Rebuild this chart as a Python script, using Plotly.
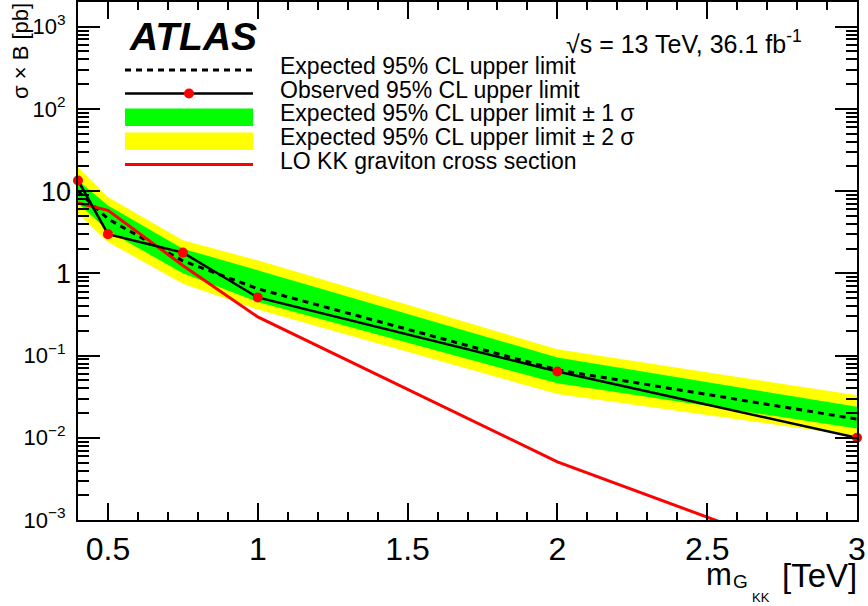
import plotly.graph_objects as go

# ---------------- data ----------------
mass = [0.4, 0.5, 0.75, 1.0, 2.0, 3.0]              # TeV
observed = [13.5, 3.0, 1.79, 0.51, 0.064, 0.0100]    # pb
expected = [10.0, 4.6, 1.42, 0.65, 0.067, 0.0169]
exp_p1 = [13.5, 6.7, 2.0, 1.09, 0.095, 0.0238]
exp_m1 = [7.2, 3.3, 1.0, 0.45, 0.046, 0.0130]
exp_p2 = [19.5, 8.5, 2.52, 1.44, 0.119, 0.0330]
exp_m2 = [5.3, 2.4, 0.75, 0.363, 0.034, 0.0105]
lo_mass = [0.4, 0.5, 0.75, 1.0, 2.0, 3.0]
lo_xsec = [7.2, 5.85, 1.25, 0.295, 0.0051, 0.00023]

x_ticks = [0.5, 1.0, 1.5, 2.0, 2.5, 3.0]
x_ticktext = ["0.5", "1", "1.5", "2", "2.5", "3"]
y_ticks = [1e-3, 1e-2, 1e-1, 1, 10, 100, 1000]
y_ticktext = ["10<sup>\u22123</sup>", "10<sup>\u22122</sup>", "10<sup>\u22121</sup>",
              "", "", "10<sup>2</sup>", "10<sup>3</sup>"]
y_big_ticks = [1, 10]
y_big_ticktext = ["1", "10"]

legend_labels = [
    "Expected 95% CL upper limit",
    "Observed 95% CL upper limit",
    "Expected 95% CL upper limit \u00b1 1 \u03c3",
    "Expected 95% CL upper limit \u00b1 2 \u03c3",
    "LO KK graviton cross section",
]

FONT = "Liberation Sans, Arial, Helvetica, sans-serif"
W, H = 868, 606
L, R, T, B = 78, 11, 2, 86
PW, PH = W - L - R, H - T - B
Y_RANGE = [-3, 3.301]


def px(xp):
    return (xp - L) / PW


def py(yp):
    return (H - B - yp) / PH


fig = go.Figure()

# 2 sigma band
fig.add_trace(go.Scatter(x=mass + mass[::-1], y=exp_p2 + exp_m2[::-1], fill="toself",
                         fillcolor="#ffff00", line=dict(width=0), mode="lines",
                         hoverinfo="skip", showlegend=False))
# 1 sigma band
fig.add_trace(go.Scatter(x=mass + mass[::-1], y=exp_p1 + exp_m1[::-1], fill="toself",
                         fillcolor="#00ff00", line=dict(width=0), mode="lines",
                         hoverinfo="skip", showlegend=False))
# expected
fig.add_trace(go.Scatter(x=mass, y=expected, mode="lines",
                         line=dict(color="black", width=3, dash="6px,5px"),
                         showlegend=False))
# LO cross section
fig.add_trace(go.Scatter(x=lo_mass, y=lo_xsec, mode="lines",
                         line=dict(color="#ff0000", width=3), showlegend=False))
# observed
fig.add_trace(go.Scatter(x=mass, y=observed, mode="lines+markers",
                         line=dict(color="black", width=2.5),
                         marker=dict(color="#ff0000", size=10, line=dict(width=0)),
                         cliponaxis=False, showlegend=False))
# invisible carrier trace for the overlay axis holding the large "1" / "10" labels
fig.add_trace(go.Scatter(x=[mass[0]], y=[observed[0]], yaxis="y2", mode="markers",
                         marker=dict(opacity=0), hoverinfo="skip", showlegend=False))

fig.update_xaxes(range=[0.4, 3.0], tickvals=x_ticks, ticktext=x_ticktext,
                 ticks="inside", ticklen=17, tickwidth=1.5, tickcolor="black",
                 showline=True, linecolor="black", linewidth=2, mirror="ticks",
                 showgrid=False, zeroline=False, automargin=False,
                 tickfont=dict(family=FONT, size=32, color="black"),
                 minor=dict(ticks="inside", ticklen=8, dtick=0.1, tick0=0.4,
                            tickwidth=1.5, tickcolor="black", showgrid=False))
fig.update_layout(
    yaxis=dict(type="log", range=Y_RANGE, tickvals=y_ticks, ticktext=y_ticktext,
               ticks="inside", ticklen=22, tickwidth=1.5, tickcolor="black",
               showline=True, linecolor="black", linewidth=2, mirror="ticks",
               showgrid=False, zeroline=False, ticklabelstandoff=6, automargin=False,
               tickfont=dict(family=FONT, size=22, color="black"),
               minor=dict(ticks="inside", ticklen=11, dtick="D1",
                          tickwidth=1.5, tickcolor="black", showgrid=False)),
    yaxis2=dict(type="log", range=Y_RANGE, overlaying="y", side="left",
                tickvals=y_big_ticks, ticktext=y_big_ticktext, ticks="",
                showline=False, showgrid=False, zeroline=False, automargin=False,
                ticklabelstandoff=6,
                tickfont=dict(family=FONT, size=27, color="black")),
)

shapes = []
# legend samples
shapes.append(dict(type="line", xref="paper", yref="paper", x0=px(125), x1=px(253),
                   y0=py(70), y1=py(70), line=dict(color="black", width=3, dash="6px,5px")))
shapes.append(dict(type="line", xref="paper", yref="paper", x0=px(125), x1=px(253),
                   y0=py(93.5), y1=py(93.5), line=dict(color="black", width=2.5)))
shapes.append(dict(type="circle", xref="paper", yref="paper", x0=px(184), x1=px(194),
                   y0=py(88.5), y1=py(98.5), fillcolor="#ff0000", line=dict(width=0)))
shapes.append(dict(type="rect", xref="paper", yref="paper", x0=px(125), x1=px(253),
                   y0=py(126), y1=py(108.5), fillcolor="#00ff00", line=dict(width=0)))
shapes.append(dict(type="rect", xref="paper", yref="paper", x0=px(125), x1=px(253),
                   y0=py(150), y1=py(132.5), fillcolor="#ffff00", line=dict(width=0)))
shapes.append(dict(type="line", xref="paper", yref="paper", x0=px(125), x1=px(253),
                   y0=py(164.5), y1=py(164.5), line=dict(color="#ff0000", width=3)))

annotations = []
row_y = [66, 90, 113.5, 137, 160.5]
for lab, yy in zip(legend_labels, row_y):
    annotations.append(dict(text=lab, xref="paper", yref="paper", x=px(278), y=py(yy),
                            xanchor="left", yanchor="middle", showarrow=False,
                            font=dict(family=FONT, size=23, color="black")))

annotations.append(dict(text="<b><i>ATLAS</i></b>", xref="paper", yref="paper",
                        x=px(193), y=py(37), xanchor="center", yanchor="middle",
                        showarrow=False, font=dict(family=FONT, size=39, color="black")))
annotations.append(dict(text="\u221as = 13 TeV, 36.1 fb<sup>-1</sup>", xref="paper", yref="paper",
                        x=px(564), y=py(42), xanchor="left", yanchor="middle",
                        showarrow=False, font=dict(family=FONT, size=25, color="black")))
# y-axis title
annotations.append(dict(text="\u03c3 \u00d7 B [pb]", xref="paper", yref="paper",
                        x=px(21), y=py(1), xanchor="center", yanchor="top", textangle=-90,
                        showarrow=False, font=dict(family=FONT, size=22, color="black")))
# x-axis title pieces
annotations.append(dict(text="[TeV]", xref="paper", yref="paper", x=px(859), y=py(575),
                        xanchor="right", yanchor="middle", showarrow=False,
                        font=dict(family=FONT, size=33, color="black")))
annotations.append(dict(text="m", xref="paper", yref="paper", x=px(704), y=py(574),
                        xanchor="left", yanchor="middle", showarrow=False,
                        font=dict(family=FONT, size=31, color="black")))
annotations.append(dict(text="G", xref="paper", yref="paper", x=px(731), y=py(581),
                        xanchor="left", yanchor="middle", showarrow=False,
                        font=dict(family=FONT, size=19, color="black")))
annotations.append(dict(text="KK", xref="paper", yref="paper", x=px(750), y=py(597),
                        xanchor="left", yanchor="middle", showarrow=False,
                        font=dict(family=FONT, size=13, color="black")))

fig.update_layout(width=W, height=H, margin=dict(l=L, r=R, t=T, b=B),
                  paper_bgcolor="white", plot_bgcolor="white",
                  shapes=shapes, annotations=annotations, showlegend=False,
                  font=dict(family=FONT, color="black"))

fig.write_html("out.html", config={"displayModeBar": False},
               post_script="document.body.style.margin='0px';document.body.style.padding='0px';")
